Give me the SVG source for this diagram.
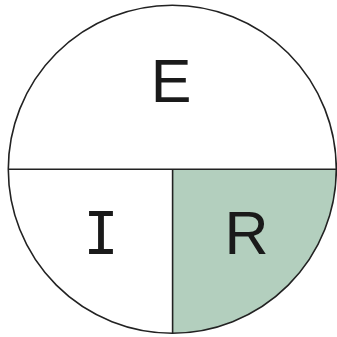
<svg xmlns="http://www.w3.org/2000/svg" width="337" height="337" viewBox="0 0 337 337">
<style>
.line{stroke:#222;stroke-width:1.6;fill:none}
.lbl{font-family:"Liberation Sans","DejaVu Sans",sans-serif;font-size:61px;fill:#1a1a1a;text-anchor:middle}
</style>
<rect width="337" height="337" fill="#ffffff"/>
<g id="R">
<path d="M172.5 169.2 H336.3 A164 164 0 0 1 172.5 333.2 Z" fill="#b3cfbe"/>
<text class="lbl" x="246.5" y="254">R</text>
</g>
<g id="E">
<text class="lbl" x="171" y="102">E</text>
</g>
<g id="I">
<text class="lbl" x="101" y="254" style="font-family:'DejaVu Sans Mono',monospace;font-size:59px">I</text>
</g>
<g id="connectors">
<circle class="line" cx="172.3" cy="169.2" r="164"/>
<line class="line" x1="8.3" y1="169.2" x2="336.3" y2="169.2"/>
<line class="line" x1="172.6" y1="169.2" x2="172.6" y2="333.2"/>
</g>
</svg>
